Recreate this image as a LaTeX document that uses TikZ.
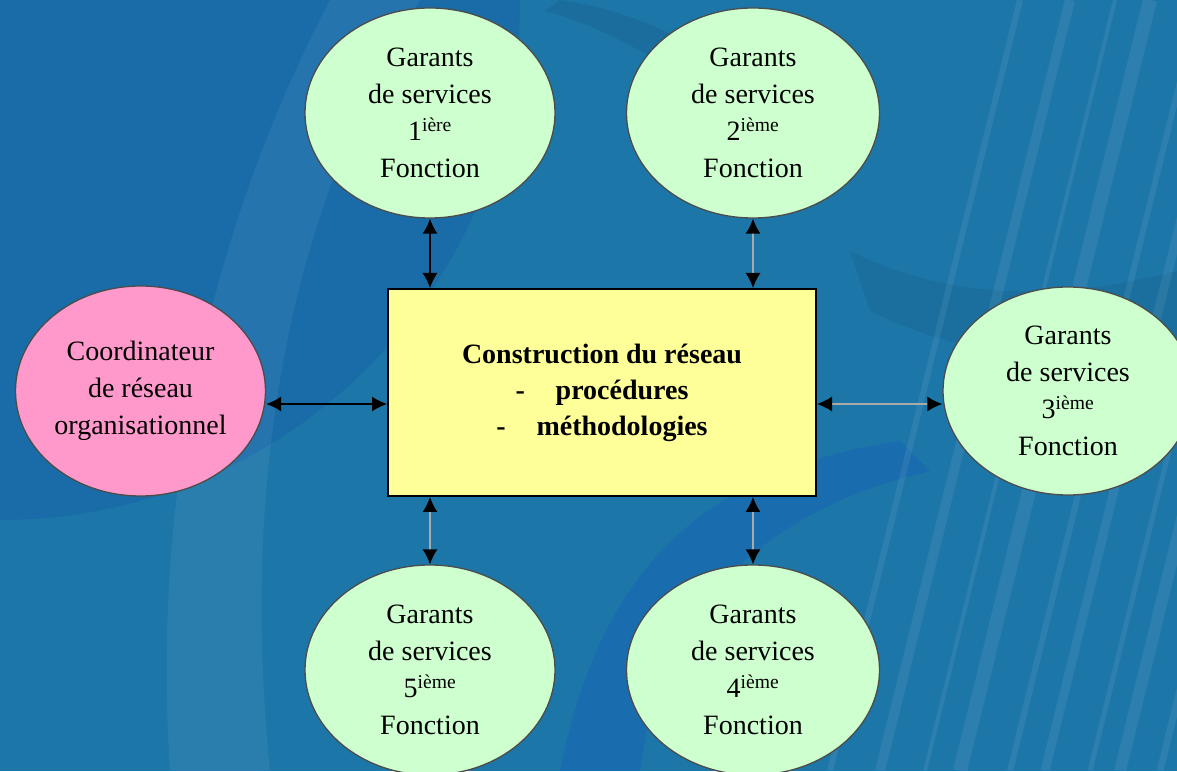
\documentclass[tikz,border=0pt]{standalone}
\usepackage{fontspec}
\setmainfont{Liberation Serif}
\usetikzlibrary{shapes.geometric,arrows.meta,calc}

\definecolor{fondbleu}{RGB}{28,118,168}
\definecolor{vertpale}{RGB}{206,255,206}
\definecolor{rosevif}{RGB}{255,153,204}
\definecolor{jaunepale}{RGB}{255,255,153}
\definecolor{grisfleche}{RGB}{170,170,170}

\tikzset{
  texte/.style={align=center,font=\fontsize{28}{37}\selectfont},
  garant/.style={texte,ellipse,draw=black!70,line width=1.3pt,fill=vertpale,
    inner sep=0pt,minimum width=250pt,minimum height=210pt},
  coordo/.style={garant,fill=rosevif},
  centre/.style={texte,rectangle,draw=black,line width=2pt,fill=jaunepale,
    inner sep=0pt,minimum width=428pt,minimum height=207pt,
    font=\fontsize{28}{36}\selectfont\bfseries},
  biarrow/.style={line width=1.4pt,black,
    {Latex[length=15pt,width=15pt]}-{Latex[length=15pt,width=15pt]}},
  grisarrow/.style={biarrow,grisfleche,
    {Latex[length=15pt,width=15pt,color=black]}-{Latex[length=15pt,width=15pt,color=black]}}
}

\begin{document}
\begin{tikzpicture}[x=1pt,y=1pt]
  \useasboundingbox (0,0) rectangle (1177,771);
  \begin{scope}
    \clip (0,0) rectangle (1177,771);
    % fond
    \fill[fondbleu] (0,0) rectangle (1177,771);
    \fill[blue!70!black,opacity=0.08] (0,771) circle (520);
    \fill[white,opacity=0.06] (170,0) .. controls (150,300) and (220,560) .. (330,771)
      -- (420,771) .. controls (290,560) and (240,300) .. (270,0) -- cycle;
    \fill[black,opacity=0.07] (545,760) .. controls (620,740) and (700,690) .. (790,610)
      -- (820,640) .. controls (720,720) and (640,760) .. (560,771) -- cycle;
    \fill[black,opacity=0.06] (850,520) .. controls (950,470) and (1060,470) .. (1177,500)
      -- (1177,420) .. controls (1060,400) and (950,420) .. (870,460) -- cycle;
    \fill[blue,opacity=0.08] (560,0) .. controls (600,200) and (700,300) .. (900,330)
      -- (930,300) .. controls (760,260) and (660,160) .. (640,0) -- cycle;
    \foreach \xs/\ep in {830/6,880/10,925/4,960/14,1010/6,1045/9,1090/5,1120/12,1160/7}
      \draw[white,opacity=0.07] [line width=\ep pt] (\xs,0) -- ++(190,771);
  \end{scope}

  % noeuds
  \node[centre] (box) at (602,378.5)
    {Construction du réseau\\-\hspace{1.1em}procédures\\-\hspace{1.1em}méthodologies};
  \node[coordo] (coord) at (140.5,380) {Coordinateur\\de réseau\\organisationnel};
  \node[garant] (g1) at (430,658) {Garants\\de services\\1\textsuperscript{ière}\\Fonction};
  \node[garant,minimum width=253pt] (g2) at (753,658) {Garants\\de services\\2\textsuperscript{ième}\\Fonction};
  \node[garant,minimum height=208pt] (g3) at (1068,380) {Garants\\de services\\3\textsuperscript{ième}\\Fonction};
  \node[garant,minimum width=253pt] (g4) at (753,101) {Garants\\de services\\4\textsuperscript{ième}\\Fonction};
  \node[garant] (g5) at (430,101) {Garants\\de services\\5\textsuperscript{ième}\\Fonction};

  % fleches
  \coordinate (la) at ([yshift=-13pt]coord.east);
  \coordinate (ra) at ([yshift=-13pt]g3.west);
  \draw[biarrow] (la) -- (la -| box.west);
  \draw[grisarrow] (box.east |- ra) -- (ra);
  \draw[biarrow] (g1.south) -- (g1.south |- box.north);
  \draw[grisarrow] (g2.south) -- (g2.south |- box.north);
  \draw[grisarrow] (g4.north) -- (g4.north |- box.south);
  \draw[grisarrow] (g5.north) -- (g5.north |- box.south);
\end{tikzpicture}
\end{document}
